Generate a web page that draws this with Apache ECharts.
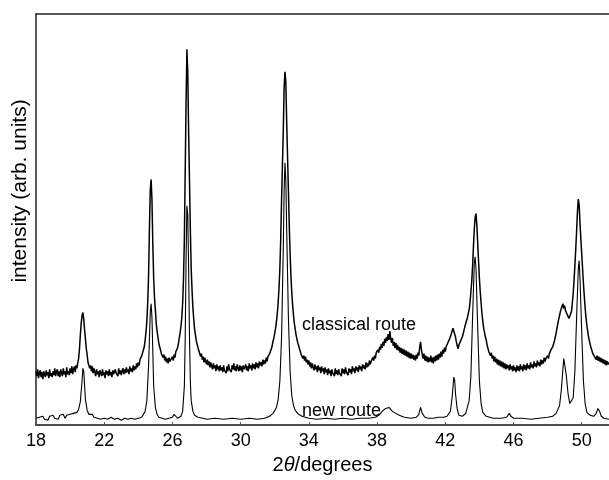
<!DOCTYPE html>
<html>
<head>
<meta charset="utf-8">
<script src="https://cdn.jsdelivr.net/npm/echarts@6/dist/echarts.min.js"></script>
<style>html,body{margin:0;padding:0;background:#fff}#c{width:609px;height:480px}</style>
</head>
<body>
<div id="c"></div>
<script>
var xTicks = [18, 22, 26, 30, 34, 38, 42, 46, 50];
var classicalRoute = [
[18.00,55],[18.05,50],[18.10,57],[18.15,48],[18.20,53],[18.25,56],[18.30,49],[18.35,54],[18.40,47],[18.45,55],
[18.50,52],[18.55,49],[18.60,56],[18.65,51],[18.70,54],[18.75,48],[18.80,57],[18.85,50],[18.90,53],[18.95,49],
[19.00,55],[19.05,51],[19.10,58],[19.15,50],[19.20,54],[19.25,57],[19.30,50],[19.35,55],[19.40,49],[19.45,57],
[19.50,53],[19.55,50],[19.60,58],[19.65,52],[19.70,55],[19.75,49],[19.80,59],[19.85,52],[19.90,55],[19.95,51],
[20.00,58],[20.05,53],[20.10,60],[20.15,52],[20.20,57],[20.25,60],[20.30,54],[20.35,61],[20.40,58],[20.45,64],
[20.50,68],[20.55,78],[20.60,92],[20.65,104],[20.70,112],[20.75,115],[20.80,108],[20.85,97],[20.90,88],[20.95,78],
[21.00,72],[21.05,64],[21.10,66],[21.15,58],[21.20,61],[21.25,55],[21.30,60],[21.35,53],[21.40,58],[21.45,54],
[21.50,50],[21.55,57],[21.60,52],[21.65,55],[21.70,49],[21.75,56],[21.80,53],[21.85,50],[21.90,57],[21.95,51],
[22.00,54],[22.05,48],[22.10,56],[22.15,52],[22.20,55],[22.25,50],[22.30,57],[22.35,51],[22.40,54],[22.45,49],
[22.50,56],[22.55,52],[22.60,50],[22.65,57],[22.70,53],[22.75,55],[22.80,50],[22.85,58],[22.90,52],[22.95,56],
[23.00,51],[23.05,55],[23.10,58],[23.15,52],[23.20,57],[23.25,53],[23.30,59],[23.35,54],[23.40,57],[23.45,52],
[23.50,60],[23.55,55],[23.60,58],[23.65,54],[23.70,61],[23.75,56],[23.80,60],[23.85,57],[23.90,63],[23.95,59],
[24.00,64],[24.05,61],[24.10,67],[24.15,65],[24.20,71],[24.25,70],[24.30,77],[24.35,80],[24.40,87],[24.45,95],
[24.50,106],[24.55,125],[24.60,152],[24.65,200],[24.70,240],[24.75,251],[24.80,230],[24.85,185],[24.90,150],[24.95,130],
[25.00,118],[25.05,104],[25.10,96],[25.15,90],[25.20,84],[25.25,80],[25.30,77],[25.35,73],[25.40,75],[25.45,69],
[25.50,72],[25.55,66],[25.60,70],[25.65,64],[25.70,68],[25.75,63],[25.80,69],[25.85,65],[25.90,67],[25.95,64],
[26.00,70],[26.05,66],[26.10,72],[26.15,69],[26.20,75],[26.25,74],[26.30,79],[26.35,83],[26.40,89],[26.45,94],
[26.50,101],[26.55,110],[26.60,125],[26.65,150],[26.70,190],[26.75,260],[26.80,330],[26.85,384],[26.90,360],[26.95,300],
[27.00,250],[27.05,200],[27.10,160],[27.15,138],[27.20,120],[27.25,108],[27.30,98],[27.35,92],[27.40,86],[27.45,84],
[27.50,79],[27.55,76],[27.60,74],[27.65,70],[27.70,73],[27.75,67],[27.80,70],[27.85,64],[27.90,69],[27.95,65],
[28.00,62],[28.05,67],[28.10,61],[28.15,65],[28.20,59],[28.25,64],[28.30,60],[28.35,57],[28.40,63],[28.45,58],
[28.50,61],[28.55,55],[28.60,62],[28.65,57],[28.70,60],[28.75,55],[28.80,61],[28.85,56],[28.90,59],[28.95,54],
[29.00,61],[29.05,56],[29.10,58],[29.15,53],[29.20,60],[29.25,55],[29.30,62],[29.35,57],[29.40,59],[29.45,54],
[29.50,61],[29.55,57],[29.60,63],[29.65,56],[29.70,60],[29.75,55],[29.80,62],[29.85,58],[29.90,55],[29.95,61],
[30.00,56],[30.05,60],[30.10,54],[30.15,61],[30.20,57],[30.25,55],[30.30,62],[30.35,56],[30.40,60],[30.45,55],
[30.50,63],[30.55,58],[30.60,61],[30.65,56],[30.70,63],[30.75,58],[30.80,62],[30.85,57],[30.90,64],[30.95,59],
[31.00,63],[31.05,58],[31.10,65],[31.15,61],[31.20,64],[31.25,60],[31.30,67],[31.35,62],[31.40,66],[31.45,63],
[31.50,69],[31.55,65],[31.60,70],[31.65,68],[31.70,73],[31.75,74],[31.80,78],[31.85,81],[31.90,86],[31.95,89],
[32.00,94],[32.05,99],[32.10,106],[32.15,114],[32.20,125],[32.25,140],[32.30,160],[32.35,190],[32.40,230],[32.45,265],
[32.50,300],[32.55,345],[32.60,361],[32.65,350],[32.70,310],[32.75,275],[32.80,240],[32.85,205],[32.90,175],[32.95,152],
[33.00,135],[33.05,122],[33.10,112],[33.15,104],[33.20,98],[33.25,92],[33.30,88],[33.35,84],[33.40,81],[33.45,78],
[33.50,76],[33.55,72],[33.60,74],[33.65,68],[33.70,71],[33.75,66],[33.80,70],[33.85,64],[33.90,67],[33.95,62],
[34.00,66],[34.05,60],[34.10,64],[34.15,58],[34.20,63],[34.25,59],[34.30,56],[34.35,62],[34.40,57],[34.45,60],
[34.50,54],[34.55,61],[34.60,56],[34.65,59],[34.70,53],[34.75,60],[34.80,55],[34.85,58],[34.90,52],[34.95,59],
[35.00,54],[35.05,57],[35.10,51],[35.15,58],[35.20,53],[35.25,56],[35.30,50],[35.35,57],[35.40,53],[35.45,55],
[35.50,50],[35.55,58],[35.60,52],[35.65,56],[35.70,51],[35.75,57],[35.80,53],[35.85,55],[35.90,50],[35.95,58],
[36.00,53],[36.05,57],[36.10,52],[36.15,59],[36.20,54],[36.25,56],[36.30,51],[36.35,58],[36.40,54],[36.45,57],
[36.50,52],[36.55,60],[36.60,55],[36.65,58],[36.70,53],[36.75,60],[36.80,56],[36.85,59],[36.90,54],[36.95,61],
[37.00,57],[37.05,60],[37.10,55],[37.15,62],[37.20,58],[37.25,61],[37.30,57],[37.35,64],[37.40,59],[37.45,63],
[37.50,60],[37.55,66],[37.60,62],[37.65,65],[37.70,63],[37.75,69],[37.80,66],[37.85,71],[37.90,68],[37.95,74],
[38.00,72],[38.05,77],[38.10,74],[38.15,80],[38.20,77],[38.25,83],[38.30,79],[38.35,85],[38.40,81],[38.45,88],
[38.50,84],[38.55,90],[38.60,86],[38.65,93],[38.70,87],[38.75,96],[38.80,88],[38.85,84],[38.90,89],[38.95,81],
[39.00,85],[39.05,79],[39.10,84],[39.15,77],[39.20,82],[39.25,76],[39.30,80],[39.35,74],[39.40,79],[39.45,73],
[39.50,78],[39.55,72],[39.60,77],[39.65,71],[39.70,76],[39.75,70],[39.80,75],[39.85,69],[39.90,74],[39.95,68],
[40.00,73],[40.05,68],[40.10,72],[40.15,67],[40.20,71],[40.25,66],[40.30,72],[40.35,68],[40.40,74],[40.45,71],
[40.50,80],[40.55,85],[40.60,77],[40.65,72],[40.70,68],[40.75,73],[40.80,66],[40.85,71],[40.90,65],[40.95,70],
[41.00,64],[41.05,69],[41.10,65],[41.15,71],[41.20,64],[41.25,69],[41.30,63],[41.35,70],[41.40,65],[41.45,71],
[41.50,66],[41.55,72],[41.60,67],[41.65,73],[41.70,69],[41.75,75],[41.80,70],[41.85,77],[41.90,73],[41.95,79],
[42.00,75],[42.05,80],[42.10,78],[42.15,84],[42.20,82],[42.25,88],[42.30,87],[42.35,93],[42.40,94],[42.45,99],
[42.50,97],[42.55,100],[42.60,90],[42.65,85],[42.70,81],[42.75,78],[42.80,82],[42.85,80],[42.90,86],[42.95,85],
[43.00,90],[43.05,92],[43.10,97],[43.15,99],[43.20,104],[43.25,106],[43.30,110],[43.35,112],[43.40,118],[43.45,125],
[43.50,136],[43.55,146],[43.60,162],[43.65,182],[43.70,200],[43.75,212],[43.80,216],[43.85,205],[43.90,186],[43.95,168],
[44.00,150],[44.05,136],[44.10,125],[44.15,114],[44.20,106],[44.25,99],[44.30,95],[44.35,90],[44.40,87],[44.45,82],
[44.50,80],[44.55,75],[44.60,77],[44.65,71],[44.70,74],[44.75,68],[44.80,71],[44.85,65],[44.90,70],[44.95,64],
[45.00,68],[45.05,62],[45.10,67],[45.15,61],[45.20,66],[45.25,60],[45.30,65],[45.35,59],[45.40,64],[45.45,58],
[45.50,63],[45.55,57],[45.60,62],[45.65,58],[45.70,61],[45.75,56],[45.80,62],[45.85,57],[45.90,60],[45.95,55],
[46.00,61],[46.05,56],[46.10,59],[46.15,54],[46.20,61],[46.25,56],[46.30,60],[46.35,55],[46.40,62],[46.45,57],
[46.50,60],[46.55,55],[46.60,62],[46.65,57],[46.70,61],[46.75,56],[46.80,63],[46.85,58],[46.90,61],[46.95,57],
[47.00,64],[47.05,59],[47.10,62],[47.15,58],[47.20,65],[47.25,60],[47.30,63],[47.35,59],[47.40,66],[47.45,61],
[47.50,64],[47.55,60],[47.60,67],[47.65,62],[47.70,66],[47.75,63],[47.80,69],[47.85,65],[47.90,68],[47.95,66],
[48.00,71],[48.05,68],[48.10,73],[48.15,71],[48.20,77],[48.25,75],[48.30,80],[48.35,82],[48.40,86],[48.45,90],
[48.50,94],[48.55,99],[48.60,104],[48.65,108],[48.70,112],[48.75,116],[48.80,119],[48.85,121],[48.90,124],[48.95,119],
[49.00,122],[49.05,117],[49.10,119],[49.15,113],[49.20,115],[49.25,109],[49.30,107],[49.35,111],[49.40,116],[49.45,125],
[49.50,134],[49.55,148],[49.60,163],[49.65,180],[49.70,198],[49.75,218],[49.80,231],[49.85,225],[49.90,206],[49.95,190],
[50.00,175],[50.05,160],[50.10,145],[50.15,132],[50.20,120],[50.25,110],[50.30,102],[50.35,96],[50.40,90],[50.45,86],
[50.50,82],[50.55,79],[50.60,77],[50.65,73],[50.70,75],[50.75,70],[50.80,72],[50.85,67],[50.90,71],[50.95,66],
[51.00,70],[51.05,65],[51.10,69],[51.15,64],[51.20,68],[51.25,63],[51.30,67],[51.35,62],[51.40,66],[51.45,61],
[51.50,65],[51.55,62],[51.60,64]
];
var newRoute = [
[18.0,7],[18.1,5],[18.2,8],[18.3,6],[18.4,9],[18.5,6],[18.6,8],[18.7,5],[18.8,9],[18.9,7],
[19.0,10],[19.1,7],[19.2,9],[19.3,6],[19.4,10],[19.5,8],[19.6,11],[19.7,7],[19.8,10],[19.9,8],
[20.0,11],[20.1,9],[20.2,12],[20.3,10],[20.4,13],[20.5,16],[20.6,24],[20.7,45],[20.75,58],[20.8,55],
[20.85,40],[20.9,26],[21.0,15],[21.1,11],[21.2,9],[21.3,11],[21.4,8],[21.5,10],[21.6,7],[21.7,9],
[21.8,6],[21.9,8],[22.0,7],[22.2,6],[22.4,8],[22.6,6],[22.8,7],[23.0,5],[23.2,7],[23.4,6],
[23.6,7],[23.8,6],[24.0,7],[24.2,8],[24.3,10],[24.4,14],[24.5,25],[24.6,60],[24.7,115],[24.75,124],
[24.8,110],[24.85,75],[24.9,40],[25.0,18],[25.1,11],[25.2,8],[25.4,7],[25.6,6],[25.8,7],[26.0,8],
[26.1,11],[26.2,9],[26.3,7],[26.5,9],[26.6,14],[26.7,40],[26.75,90],[26.8,170],[26.85,224],[26.9,215],
[26.95,160],[27.0,90],[27.05,45],[27.1,25],[27.2,14],[27.3,10],[27.5,8],[27.8,7],[28.0,6],[28.5,7],
[29.0,6],[29.5,7],[30.0,6],[30.5,7],[31.0,6],[31.4,7],[31.7,9],[31.9,12],[32.1,18],[32.2,26],
[32.3,45],[32.4,90],[32.5,180],[32.55,240],[32.6,268],[32.65,250],[32.7,200],[32.8,110],[32.9,55],[33.0,30],
[33.1,20],[33.2,15],[33.4,11],[33.6,9],[34.0,7],[34.5,6],[35.0,7],[35.5,6],[36.0,7],[36.5,6],
[37.0,7],[37.5,7],[37.9,8],[38.1,10],[38.3,14],[38.5,17],[38.7,18],[38.8,16],[38.9,14],[39.1,12],
[39.3,10],[39.6,8],[40.0,7],[40.3,8],[40.45,11],[40.55,18],[40.65,12],[40.8,8],[41.0,7],[41.3,7],
[41.6,8],[41.9,8],[42.1,9],[42.3,14],[42.4,28],[42.5,49],[42.55,46],[42.6,32],[42.7,16],[42.8,10],
[43.0,9],[43.2,12],[43.4,25],[43.5,50],[43.6,110],[43.7,165],[43.75,172],[43.8,160],[43.9,100],[44.0,45],
[44.1,22],[44.2,13],[44.4,9],[44.8,7],[45.3,7],[45.6,8],[45.75,12],[45.85,9],[46.0,7],[46.5,7],
[47.0,6],[47.5,7],[48.0,8],[48.3,9],[48.5,12],[48.7,20],[48.8,35],[48.9,58],[48.95,68],[49.0,66],
[49.1,50],[49.2,32],[49.3,22],[49.4,20],[49.5,28],[49.6,55],[49.7,110],[49.8,160],[49.85,168],[49.9,150],
[50.0,95],[50.1,45],[50.2,22],[50.3,13],[50.5,10],[50.7,9],[50.85,12],[50.95,17],[51.05,14],[51.15,9],
[51.3,7],[51.6,6]
];
var seriesNames = ['classical route', 'new route'];

var chart = echarts.init(document.getElementById('c'), null, {renderer: 'canvas'});
var FONT = '"Liberation Sans", Arial, Helvetica, sans-serif';
chart.setOption({
  animation: false,
  backgroundColor: '#fff',
  grid: {left: 36, right: 0, top: 14, bottom: 46},
  xAxis: [{
    type: 'value', min: 18, max: 51.6, position: 'bottom',
    axisLine: {show: true, onZero: false, lineStyle: {color: '#111', width: 1.5}},
    axisTick: {show: true, inside: true, length: 3, customValues: xTicks, lineStyle: {color: '#555'}},
    axisLabel: {customValues: xTicks, margin: 7, fontSize: 18, color: '#000', fontFamily: FONT},
    splitLine: {show: false},
    name: '2{i|θ}/degrees', nameLocation: 'middle', nameGap: 23,
    nameTextStyle: {fontSize: 20, color: '#000', fontFamily: FONT,
      rich: {i: {fontSize: 20, fontStyle: 'italic', color: '#000', fontFamily: FONT}}}
  }, {
    type: 'value', min: 18, max: 51.6, position: 'top',
    axisLine: {show: true, onZero: false, lineStyle: {color: '#222', width: 1.5}},
    axisTick: {show: false}, axisLabel: {show: false}, splitLine: {show: false}
  }],
  yAxis: {
    type: 'value', min: 0, max: 420,
    axisLine: {show: true, onZero: false, lineStyle: {color: '#222', width: 1.5}},
    axisTick: {show: false}, axisLabel: {show: false}, splitLine: {show: false}
  },
  series: [{
    name: seriesNames[0], type: 'line', data: classicalRoute, showSymbol: false,
    lineStyle: {color: '#000', width: 1.5}, z: 2
  }, {
    name: seriesNames[1], type: 'line', data: newRoute, showSymbol: false,
    lineStyle: {color: '#000', width: 1.1}, z: 3
  }],
  graphic: [
    {type: 'text', x: 20, y: 191, rotation: Math.PI / 2,
      style: {text: 'intensity (arb. units)', fontSize: 21, fontFamily: FONT, fill: '#000',
        align: 'center', verticalAlign: 'middle'}},
    {type: 'text', x: 302, y: 325,
      style: {text: seriesNames[0], fontSize: 18, fontFamily: FONT, fill: '#000',
        align: 'left', verticalAlign: 'middle'}},
    {type: 'text', x: 302, y: 411,
      style: {text: seriesNames[1], fontSize: 18, fontFamily: FONT, fill: '#000',
        align: 'left', verticalAlign: 'middle'}}
  ]
});
</script>
</body>
</html>
